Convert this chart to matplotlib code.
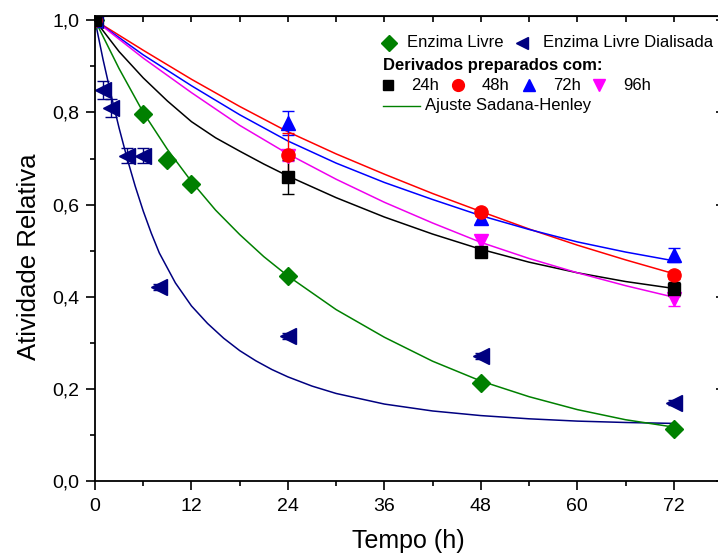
import matplotlib
matplotlib.use("Agg")
import matplotlib.pyplot as plt
from matplotlib.ticker import MultipleLocator

plt.rcParams['font.family'] = ['Liberation Sans', 'DejaVu Sans']

# pontos experimentais
t_livre = [0, 6, 9, 12, 24, 48, 72]
a_livre = [1.0, 0.797, 0.697, 0.645, 0.445, 0.213, 0.113]

t_dial = [0, 1, 2, 4, 6, 8, 24, 48, 72]
a_dial = [1.0, 0.849, 0.81, 0.706, 0.706, 0.421, 0.315, 0.271, 0.170]
e_dial = [0.0, 0.02, 0.02, 0.016, 0.016, 0.006, 0.006, 0.006, 0.006]

t_der = [0, 24, 48, 72]
a_24h = [1.0, 0.659, 0.498, 0.417]
e_24h = [0.0, 0.037, 0.008, 0.015]
a_48h = [1.0, 0.708, 0.583, 0.447]
e_48h = [0.0, 0.047, 0.008, 0.008]
a_72h = [1.0, 0.778, 0.570, 0.491]
e_72h = [0.0, 0.026, 0.012, 0.015]
a_96h = [1.0, 0.705, 0.520, 0.395]
e_96h = [0.0, 0.010, 0.012, 0.015]

# curvas do ajuste Sadana-Henley
t_fit_dial = [0, 1, 2, 3, 4, 5, 6, 7, 8, 10, 12, 14, 16, 18, 20, 22, 24, 27, 30,
              36, 42, 48, 54, 60, 66, 72]
fit_dial = [1.0, 0.915, 0.838, 0.766, 0.70, 0.64, 0.586, 0.538, 0.495, 0.43, 0.38,
            0.342, 0.31, 0.283, 0.261, 0.242, 0.226, 0.206, 0.19, 0.167, 0.152,
            0.142, 0.135, 0.13, 0.127, 0.125]

t_fit_livre = [0, 3, 6, 9, 12, 15, 18, 21, 24, 30, 36, 42, 48, 54, 60, 66, 72]
fit_livre = [1.0, 0.895, 0.80, 0.72, 0.65, 0.588, 0.535, 0.487, 0.445, 0.372,
             0.312, 0.26, 0.217, 0.183, 0.155, 0.133, 0.117]

t_fit_24 = [0, 3, 6, 9, 12, 15, 18, 21, 24, 30, 36, 42, 48, 54, 60, 66, 72]
fit_24h = [1.0, 0.932, 0.875, 0.825, 0.78, 0.745, 0.716, 0.688, 0.662, 0.615,
           0.573, 0.536, 0.503, 0.475, 0.452, 0.433, 0.418]

t_fit = [0, 6, 12, 18, 24, 30, 36, 42, 48, 54, 60, 66, 72]
fit_48h = [1.0, 0.935, 0.872, 0.813, 0.758, 0.71, 0.666, 0.624, 0.585, 0.547,
           0.512, 0.48, 0.45]
fit_72h = [1.0, 0.925, 0.858, 0.795, 0.738, 0.69, 0.648, 0.611, 0.576, 0.546,
           0.519, 0.497, 0.478]
fit_96h = [1.0, 0.918, 0.843, 0.772, 0.71, 0.655, 0.605, 0.56, 0.518, 0.483,
           0.452, 0.424, 0.399]

x_ticks = [0, 12, 24, 36, 48, 60, 72]
y_ticks = [0.0, 0.2, 0.4, 0.6, 0.8, 1.0]
y_tick_labels = ['0,0', '0,2', '0,4', '0,6', '0,8', '1,0']

GREEN = '#008000'
NAVY = '#000080'

fig = plt.figure(figsize=(7.18, 5.6), dpi=100)
ax = fig.add_axes([95 / 718, 1 - 481 / 560, 627 / 718, 465.3 / 560])

# curvas
lw = 1.1
ax.plot(t_fit_dial, fit_dial, color=NAVY, lw=lw)
ax.plot(t_fit_livre, fit_livre, color=GREEN, lw=lw)
ax.plot(t_fit_24, fit_24h, color='black', lw=lw)
ax.plot(t_fit, fit_48h, color='red', lw=lw)
ax.plot(t_fit, fit_72h, color='blue', lw=lw)
ax.plot(t_fit, fit_96h, color='#EE00EE', lw=lw)

# pontos
ebk = dict(capsize=4, elinewidth=1, capthick=1, ls='none')
ax.errorbar(t_dial, a_dial, yerr=e_dial, fmt='<', color=NAVY, ms=11, **ebk)
ax.plot(t_livre, a_livre, 'D', color=GREEN, ms=9, ls='none')
ax.errorbar(t_der, a_96h, yerr=e_96h, fmt='v', color='#FF00FF', ms=10, **ebk)
ax.errorbar(t_der, a_72h, yerr=e_72h, fmt='^', color='blue', ms=10, **ebk)
ax.errorbar(t_der, a_48h, yerr=e_48h, fmt='o', color='red', ms=9.5, **ebk)
ax.errorbar(t_der, a_24h, yerr=e_24h, fmt='s', color='black', ms=8.5, **ebk)

ax.set_xlim(0, 78)
ax.set_ylim(0, 1.01)
ax.set_xticks(x_ticks)
ax.set_yticks(y_ticks)
ax.set_yticklabels(y_tick_labels)
ax.xaxis.set_minor_locator(MultipleLocator(6))
ax.yaxis.set_minor_locator(MultipleLocator(0.1))

for s in ax.spines.values():
    s.set_linewidth(1.3)
ax.tick_params(which='major', direction='out', length=6.5, width=1.2,
               labelsize=14, pad=5)
ax.tick_params(which='minor', direction='out', length=3.8, width=1.2)
ax.tick_params(axis='x', which='major', pad=6)

# eixos de cima e direita com marcas para dentro
top = ax.secondary_xaxis('top')
top.set_xticks(x_ticks)
top.xaxis.set_minor_locator(MultipleLocator(6))
top.tick_params(which='both', direction='in', length=4, width=1.2, labeltop=False)
right = ax.secondary_yaxis('right')
right.set_yticks(y_ticks)
right.tick_params(which='both', direction='in', length=4, width=1.2, labelright=False)

ax.set_xlabel('Tempo (h)', fontsize=18)
ax.set_ylabel('Atividade Relativa', fontsize=18.5)
ax.xaxis.set_label_coords(0.5, -0.104)
ax.yaxis.set_label_coords(-0.086, 0.482)

# legenda
tr = ax.transAxes
fs = 12
ax.plot([0.469], [0.942], 'D', color=GREEN, ms=8, transform=tr, clip_on=False)
ax.text(0.497, 0.942, 'Enzima Livre', fontsize=fs, va='center', transform=tr)
ax.plot([0.6815], [0.942], '<', color=NAVY, ms=9, transform=tr, clip_on=False)
ax.text(0.714, 0.942, 'Enzima Livre Dialisada', fontsize=fs, va='center', transform=tr)
ax.text(0.459, 0.894, 'Derivados preparados com:', fontsize=fs, fontweight='bold',
        va='center', transform=tr)
ax.plot([0.467], [0.851], 's', color='black', ms=7, transform=tr)
ax.text(0.5035, 0.851, '24h', fontsize=fs, va='center', transform=tr)
ax.plot([0.5785], [0.851], 'o', color='red', ms=8.5, transform=tr)
ax.text(0.617, 0.851, '48h', fontsize=fs, va='center', transform=tr)
ax.plot([0.692], [0.851], '^', color='blue', ms=9, transform=tr)
ax.text(0.730, 0.851, '72h', fontsize=fs, va='center', transform=tr)
ax.plot([0.804], [0.851], 'v', color='#FF00FF', ms=9, transform=tr)
ax.text(0.8426, 0.851, '96h', fontsize=fs, va='center', transform=tr)
ax.plot([0.459, 0.518], [0.806, 0.806], color=GREEN, lw=1, transform=tr)
ax.text(0.527, 0.806, 'Ajuste Sadana-Henley', fontsize=fs, va='center', transform=tr)

fig.savefig('out.png', dpi=100)
